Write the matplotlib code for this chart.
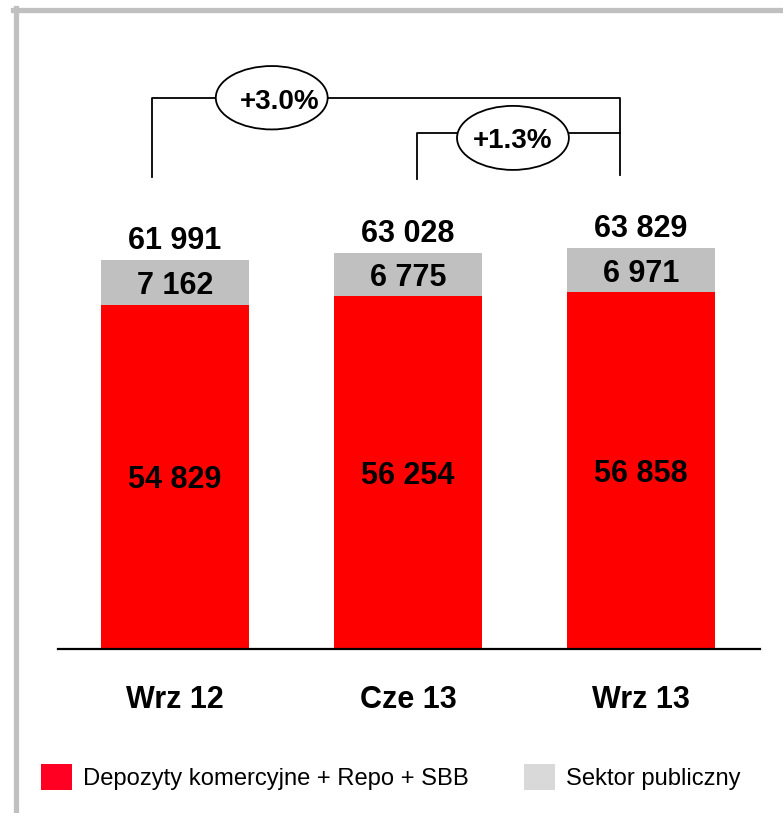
import matplotlib.pyplot as plt
from matplotlib.patches import Ellipse, Patch
from matplotlib.lines import Line2D

plt.rcParams['font.family'] = ['Liberation Sans', 'DejaVu Sans']

# data
categories = ['Wrz 12', 'Cze 13', 'Wrz 13']
komercyjne = [54829, 56254, 56858]
publiczny = [7162, 6775, 6971]
totals = [61991, 63028, 63829]


def fmt(v):
    return '{:,}'.format(v).replace(',', ' ')


fig = plt.figure(figsize=(7.83, 8.13), dpi=100)
W, H = 783, 813

# axes from baseline (y=649px) up to the top of the figure
ax = fig.add_axes([58 / W, (H - 649) / H, 702 / W, 649 / H])
ax.set_xlim(-0.502, 2.51)
ax.set_ylim(0, 103400)

x = list(range(len(categories)))
red = '#ff0000'
grey = '#c0c0c0'
ax.bar(x, komercyjne, width=0.635, color=red, zorder=2)
ax.bar(x, publiczny, width=0.635, bottom=komercyjne, color=grey, zorder=2)

for i in x:
    ax.text(i, komercyjne[i] / 2, fmt(komercyjne[i]), ha='center', va='center_baseline',
            fontsize=22, fontweight='bold')
    ax.text(i, komercyjne[i] + publiczny[i] / 2, fmt(publiczny[i]), ha='center',
            va='center_baseline', fontsize=22, fontweight='bold')
    ax.annotate(fmt(totals[i]), (i, totals[i]), xytext=(0, 8), textcoords='offset points',
                ha='center', va='baseline', fontsize=22, fontweight='bold')

# growth brackets
top = max(totals)
lw = 1.3
# Wrz 12 -> Wrz 13
y1 = top + 24000
ax.plot([-0.1, -0.1, 1.91, 1.91], [top + 11400, y1, y1, top + 11700], color='black', lw=lw, zorder=1)
ax.add_patch(Ellipse((0.415, y1), 0.48, 10100, facecolor='white', edgecolor='black', lw=lw, zorder=3))
ax.text(0.45, y1 - 700, '+{:.1f}%'.format((totals[2] / totals[0] - 1) * 100), ha='center',
        va='center', fontsize=20, fontweight='bold', zorder=4)
# Cze 13 -> Wrz 13
y2 = top + 18400
ax.plot([1.04, 1.04, 1.91], [top + 11100, y2, y2], color='black', lw=lw, zorder=1)
ax.add_patch(Ellipse((1.45, y2 - 800), 0.48, 10200, facecolor='white', edgecolor='black', lw=lw, zorder=3))
ax.text(1.45, y2 - 1300, '+{:.1f}%'.format((totals[2] / totals[1] - 1) * 100), ha='center',
        va='center', fontsize=20, fontweight='bold', zorder=4)

ax.set_xticks(x)
ax.set_xticklabels(categories, fontsize=22, fontweight='bold')
ax.tick_params(axis='x', length=0, pad=26)
ax.set_yticks([])
for s in ['top', 'left', 'right']:
    ax.spines[s].set_visible(False)
ax.spines['bottom'].set_linewidth(1.6)
ax.patch.set_alpha(0)

# grey frame lines at top and left
fig.add_artist(Line2D([13 / W, 1], [1 - 10.5 / H, 1 - 10.5 / H], color='#c0c0c0', lw=3.8))
fig.add_artist(Line2D([15.5 / W, 15.5 / W], [0, 1 - 8 / H], color='#c0c0c0', lw=3.8))

handles = [Patch(facecolor='#ff0022', label='Depozyty komercyjne + Repo + SBB'),
           Patch(facecolor='#d9d9d9', label='Sektor publiczny')]
fig.legend(handles=handles, loc='center left', bbox_to_anchor=(41 / W, 1 - 777 / H), ncol=2,
           frameon=False, fontsize=17.1, handlelength=1.3, handleheight=1.35, handletextpad=0.45,
           columnspacing=2.35, borderpad=0, borderaxespad=0)

fig.savefig('out.png', dpi=100)
